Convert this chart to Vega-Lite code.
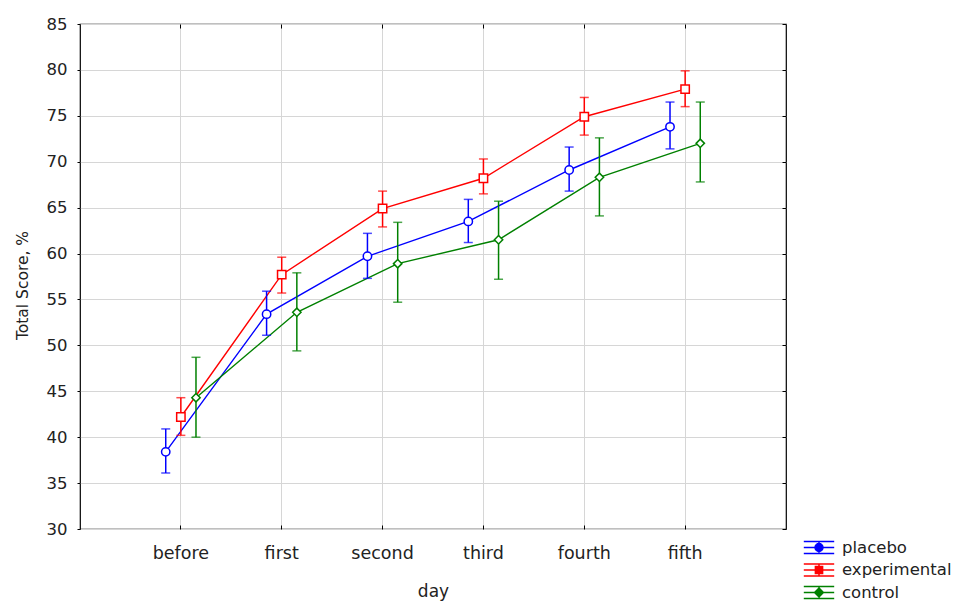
{
  "$schema": "https://vega.github.io/schema/vega-lite/v6.json",
  "width": 706,
  "height": 505,
  "autosize": {"type": "none"},
  "padding": {"left": 80, "top": 24, "right": 172, "bottom": 72},
  "background": "white",
  "config": {
    "font": "DejaVu Sans",
    "view": {"stroke": "black", "strokeWidth": 1.2},
    "axis": {
      "domain": false,
      "gridColor": "#d6d6d6",
      "gridWidth": 1,
      "tickColor": "black",
      "labelColor": "#222222",
      "titleColor": "#222222",
      "titleFontWeight": "normal",
      "labelFont": "DejaVu Sans",
      "titleFont": "DejaVu Sans"
    },
    "legend": {"labelFont": "DejaVu Sans"}
  },
  "data": {
    "values": [
      {"day": "before", "group": "placebo", "mean": 38.4, "lo": 36.1, "hi": 40.9},
      {"day": "before", "group": "experimental", "mean": 42.2, "lo": 40.2, "hi": 44.3},
      {"day": "before", "group": "control", "mean": 44.3, "lo": 40.0, "hi": 48.7},
      {"day": "first", "group": "placebo", "mean": 53.4, "lo": 51.1, "hi": 55.9},
      {"day": "first", "group": "experimental", "mean": 57.7, "lo": 55.7, "hi": 59.6},
      {"day": "first", "group": "control", "mean": 53.6, "lo": 49.4, "hi": 57.9},
      {"day": "second", "group": "placebo", "mean": 59.7, "lo": 57.3, "hi": 62.2},
      {"day": "second", "group": "experimental", "mean": 64.9, "lo": 62.9, "hi": 66.8},
      {"day": "second", "group": "control", "mean": 58.9, "lo": 54.7, "hi": 63.4},
      {"day": "third", "group": "placebo", "mean": 63.5, "lo": 61.2, "hi": 65.9},
      {"day": "third", "group": "experimental", "mean": 68.2, "lo": 66.5, "hi": 70.3},
      {"day": "third", "group": "control", "mean": 61.5, "lo": 57.2, "hi": 65.7},
      {"day": "fourth", "group": "placebo", "mean": 69.1, "lo": 66.8, "hi": 71.6},
      {"day": "fourth", "group": "experimental", "mean": 74.9, "lo": 72.9, "hi": 77.0},
      {"day": "fourth", "group": "control", "mean": 68.3, "lo": 64.1, "hi": 72.6},
      {"day": "fifth", "group": "placebo", "mean": 73.8, "lo": 71.4, "hi": 76.5},
      {"day": "fifth", "group": "experimental", "mean": 77.9, "lo": 76.0, "hi": 79.9},
      {"day": "fifth", "group": "control", "mean": 72.0, "lo": 67.8, "hi": 76.5}
    ]
  },
  "encoding": {
    "x": {
      "field": "day",
      "type": "nominal",
      "sort": ["before", "first", "second", "third", "fourth", "fifth"],
      "scale": {"type": "band", "paddingInner": 0.7, "paddingOuter": 0.85},
      "axis": null
    },
    "xOffset": {
      "field": "group",
      "type": "nominal",
      "scale": {"type": "point", "padding": 0, "domain": ["placebo", "experimental", "control"]}
    },
    "color": {
      "field": "group",
      "type": "nominal",
      "scale": {"domain": ["placebo", "experimental", "control"], "range": ["#0000ff", "#ff0000", "#008000"]},
      "legend": {
        "orient": "none",
        "legendX": 730,
        "legendY": 514.5,
        "title": null,
        "padding": 0,
        "labelFontSize": 16.5,
        "labelColor": "#222222",
        "symbolSize": 256,
        "symbolStrokeWidth": 1.5,
        "symbolFillColor": "transparent",
        "symbolOpacity": 1,
        "rowPadding": 4.5,
        "labelOffset": 14,
        "symbolType": {"expr": "datum.value === 'placebo' ? 'M-1.9,-0.75H1.9M-1.9,0.75H1.9M-1.9,0H-0.5M0.5,0H1.9M0,-0.75V-0.5M0,0.5V0.75M0.5,0A0.5,0.5,0,1,1,-0.5,0A0.5,0.5,0,1,1,0.5,0' : datum.value === 'experimental' ? 'M-1.9,-0.75H1.9M-1.9,0.75H1.9M-1.9,0H-0.45M0.45,0H1.9M0,-0.75V-0.45M0,0.45V0.75M-0.45,-0.45H0.45V0.45H-0.45Z' : 'M-1.9,-0.75H1.9M-1.9,0.75H1.9M-1.9,0H-0.55M0.55,0H1.9M0,-0.75V-0.55M0,0.55V0.75M0,-0.55L0.55,0L0,0.55L-0.55,0Z'"}
      }
    }
  },
  "layer": [
    {
      "mark": {"type": "line", "strokeWidth": 1.4},
      "encoding": {
        "x": {
          "field": "day",
          "type": "nominal",
          "sort": ["before", "first", "second", "third", "fourth", "fifth"],
          "scale": {"type": "band", "paddingInner": 0.7, "paddingOuter": 0.85},
          "axis": {"orient": "top", "labels": false, "title": null, "grid": false, "tickSize": -4, "bandPosition": 0.5}
        },
        "y": {"field": "mean", "type": "quantitative", "scale": {"domain": [30, 85], "nice": false, "zero": false}, "axis": null}
      }
    },
    {
      "mark": {"type": "rule", "strokeWidth": 1.5},
      "encoding": {
        "y": {"field": "lo", "type": "quantitative", "axis": {"orient": "right", "labels": false, "title": null, "grid": false, "tickSize": -4, "values": [30, 35, 40, 45, 50, 55, 60, 65, 70, 75, 80, 85]}},
        "y2": {"field": "hi"}
      }
    },
    {
      "mark": {"type": "tick", "thickness": 1.5, "size": 9},
      "encoding": {"y": {"field": "lo", "type": "quantitative", "axis": null}}
    },
    {
      "mark": {"type": "tick", "thickness": 1.5, "size": 9},
      "encoding": {"y": {"field": "hi", "type": "quantitative", "axis": null}}
    },
    {
      "transform": [{"filter": "datum.group === 'placebo'"}],
      "mark": {"type": "point", "shape": "circle", "filled": false, "fill": "white", "size": 70, "strokeWidth": 1.5, "opacity": 1},
      "encoding": {
        "x": {
          "field": "day",
          "type": "nominal",
          "sort": ["before", "first", "second", "third", "fourth", "fifth"],
          "scale": {"type": "band", "paddingInner": 0.7, "paddingOuter": 0.85},
          "axis": {
            "orient": "bottom",
            "title": "day",
            "labelAngle": 0,
            "labelFontSize": 17.5,
            "titleFontSize": 17,
            "tickSize": -4,
            "labelPadding": 19,
            "titlePadding": 22,
            "grid": true,
            "bandPosition": 0.5
          }
        },
        "y": {
          "field": "mean",
          "type": "quantitative",
          "axis": {"orient": "left", "title": "Total Score, %", "titleY": 261, "values": [30, 35, 40, 45, 50, 55, 60, 65, 70, 75, 80, 85], "labelFontSize": 16.5, "titleFontSize": 15.5, "tickSize": 3, "labelPadding": 10, "titlePadding": 16, "grid": true}
        }
      }
    },
    {
      "transform": [{"filter": "datum.group === 'experimental'"}],
      "mark": {"type": "point", "shape": "square", "filled": false, "fill": "white", "size": 70, "strokeWidth": 1.5, "opacity": 1},
      "encoding": {"y": {"field": "mean", "type": "quantitative", "axis": null}}
    },
    {
      "transform": [{"filter": "datum.group === 'control'"}],
      "mark": {"type": "point", "shape": "diamond", "filled": false, "fill": "white", "size": 70, "strokeWidth": 1.5, "opacity": 1},
      "encoding": {"y": {"field": "mean", "type": "quantitative", "axis": null}}
    }
  ],
  "resolve": {"axis": {"y": "independent", "x": "independent"}}
}
